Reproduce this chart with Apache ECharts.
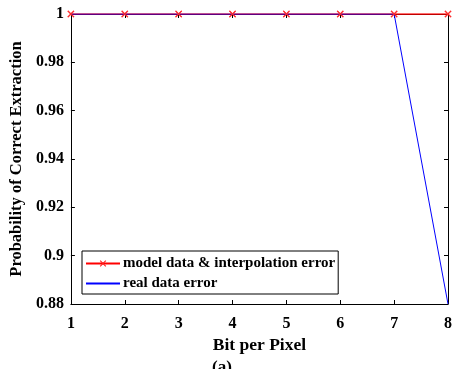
<!DOCTYPE html>
<html><head><meta charset="utf-8">
<script src="https://cdn.jsdelivr.net/npm/echarts@6/dist/echarts.min.js"></script>
<style>html,body{margin:0;padding:0;background:#fff;overflow:hidden}#c{width:458px;height:369px}</style>
</head><body><div id="c"></div>
<script>
const bits = [1, 2, 3, 4, 5, 6, 7, 8];
const modelError = [1, 1, 1, 1, 1, 1, 1, 1];
const realError = [1, 1, 1, 1, 1, 1, 1, 0.88];
const seriesNames = ['model data & interpolation error', 'real data error'];

const font = 'Liberation Serif, Times New Roman, serif';
const xMark = 'path://M0,1.2L1.2,0L10,8.8L8.8,10ZM8.8,0L10,1.2L1.2,10L0,8.8Z';
const chart = echarts.init(document.getElementById('c'));
const pairs = (ys) => bits.map((b, i) => [b, ys[i]]);
const axisCommon = {
  axisLine: { show: true, onZero: false, lineStyle: { color: '#000', width: 1 } },
  axisTick: { show: true, inside: true, length: 4, lineStyle: { color: '#000' } },
  splitLine: { show: false }
};
chart.setOption({
  animation: false,
  grid: { left: 70, right: 10, top: 14, bottom: 65 },
  xAxis: [
    Object.assign({ type: 'value', min: 1, max: 8, interval: 1,
      name: 'Bit per Pixel', nameLocation: 'middle', nameGap: 32,
      nameTextStyle: { fontFamily: font, fontWeight: 'bold', fontSize: 17.5, color: '#000' },
      axisLabel: { fontFamily: font, fontWeight: 'bold', fontSize: 16, color: '#000', margin: 12 } }, axisCommon),
    Object.assign({ type: 'value', min: 1, max: 8, interval: 1, position: 'top',
      axisLabel: { show: false } }, axisCommon)
  ],
  yAxis: [
    Object.assign({ type: 'value', min: 0.88, max: 1, interval: 0.02,
      name: 'Probability of Correct Extraction', nameLocation: 'middle', nameGap: 36,
      nameTextStyle: { fontFamily: font, fontWeight: 'bold', fontSize: 16.5, color: '#000' },
      axisLabel: { fontFamily: font, fontWeight: 'bold', fontSize: 16, color: '#000', margin: 7,
        formatter: v => String(Math.round(v * 100) / 100) } }, axisCommon),
    Object.assign({ type: 'value', min: 0.88, max: 1, interval: 0.02, position: 'right',
      axisLabel: { show: false } }, axisCommon)
  ],
  legend: {
    orient: 'vertical', left: 82, top: 251, itemGap: 5,
    itemWidth: 34, itemHeight: 8,
    padding: [5, 3, 3, 3],
    borderColor: '#000', borderWidth: 1, backgroundColor: '#fff', borderRadius: 0,
    textStyle: { fontFamily: font, fontWeight: 'bold', fontSize: 15, color: '#000', padding: [0, 0, 0, -2] },
    data: [
      { name: seriesNames[0] },
      { name: seriesNames[1], itemStyle: { color: 'rgba(0,0,0,0)', borderWidth: 0, opacity: 0 } }
    ]
  },
  series: [
    { name: seriesNames[0], type: 'line', data: pairs(modelError), z: 2,
      symbol: xMark, symbolSize: 7, showSymbol: true,
      lineStyle: { color: '#ff0000', width: 1.5 }, itemStyle: { color: '#ff2020' } },
    { name: seriesNames[1], type: 'line', data: pairs(realError), z: 3,
      symbol: 'none', lineStyle: { color: '#0000ff', width: 1 }, itemStyle: { color: '#0000ff' } },
    { type: 'scatter', data: pairs(modelError), z: 4, symbol: xMark, symbolSize: 7,
      itemStyle: { color: '#ff3030' }, silent: true }
  ]
});
</script>
<div style="position:absolute;left:0;top:357px;width:458px;text-align:center;font:bold 17px 'Liberation Serif',serif;margin-left:-7px">(a)</div>
</body></html>
